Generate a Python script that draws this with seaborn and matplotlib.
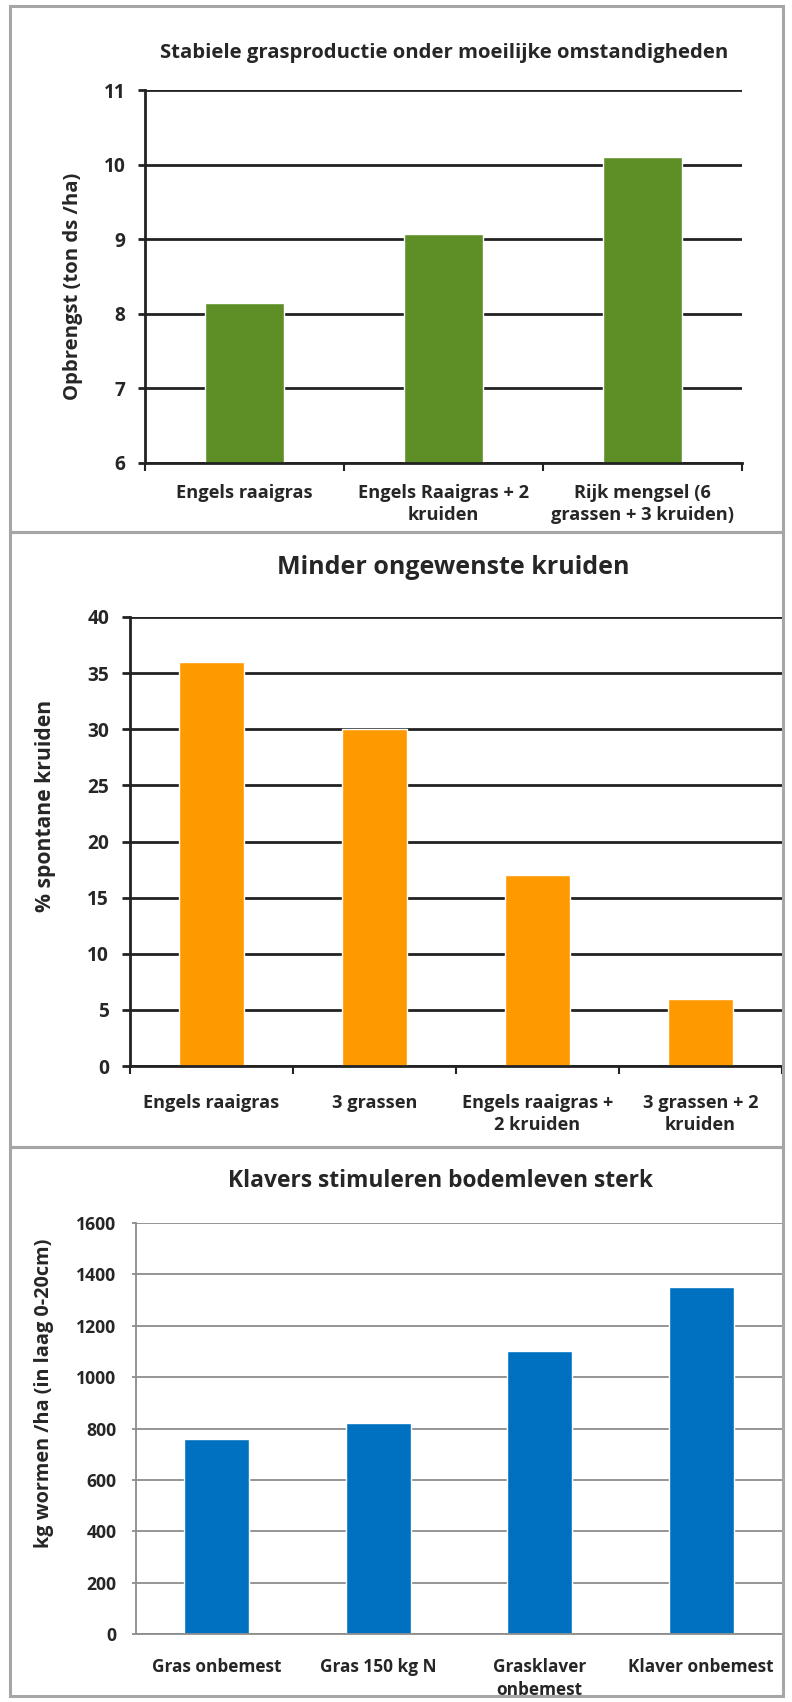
import matplotlib
matplotlib.use("Agg")
import matplotlib.pyplot as plt
import seaborn as sns
import pandas as pd
from matplotlib.patches import Rectangle

sns.set_theme(style="white")
plt.rcParams['font.family'] = ['Open Sans', 'DejaVu Sans']
plt.rcParams['font.weight'] = 'bold'

# ---- data ----
cats1 = ["Engels raaigras", "Engels Raaigras + 2\nkruiden", "Rijk mengsel (6\ngrassen + 3 kruiden)"]
vals1 = [8.15, 9.07, 10.1]
title1 = "Stabiele grasproductie onder moeilijke omstandigheden"
ylabel1 = "Opbrengst (ton ds /ha)"
yticks1 = [6, 7, 8, 9, 10, 11]

cats2 = ["Engels raaigras", "3 grassen", "Engels raaigras +\n2 kruiden", "3 grassen + 2\nkruiden"]
vals2 = [36, 30, 17, 6]
title2 = "Minder ongewenste kruiden"
ylabel2 = "% spontane kruiden"
yticks2 = [0, 5, 10, 15, 20, 25, 30, 35, 40]

cats3 = ["Gras onbemest", "Gras 150 kg N", "Grasklaver\nonbemest", "Klaver onbemest"]
vals3 = [760, 820, 1100, 1350]
title3 = "Klavers stimuleren bodemleven sterk"
ylabel3 = "kg wormen /ha (in laag 0-20cm)"
yticks3 = [0, 200, 400, 600, 800, 1000, 1200, 1400, 1600]

W, H = 792, 1702
fig = plt.figure(figsize=(W / 100, H / 100), dpi=100)
fig.patch.set_facecolor("white")
TXT = "#262626"


def ax_at(x0, y0, x1, y1):
    return fig.add_axes([x0 / W, 1 - y1 / H, (x1 - x0) / W, (y1 - y0) / H])


for (y0, y1) in [(6, 532), (532, 1147), (1147, 1696)]:
    fig.patches.append(Rectangle((10 / W, 1 - y1 / H), 773 / W, (y1 - y0) / H,
                                 transform=fig.transFigure, fill=False,
                                 edgecolor="#a6a6a6", linewidth=2.2, zorder=0))


def draw(ax, cats, vals, color, yticks, grid_color, grid_lw, spine_color,
         xticks_marks, tickfs, xfs, ytick_len, ypad, xpad, lsp):
    df = pd.DataFrame({"cat": cats, "val": vals})
    sns.barplot(data=df, x="cat", y="val", color=color, width=0.4,
                saturation=1, ax=ax, zorder=3)
    n = len(cats)
    ax.set_xlim(-0.5, n - 0.5)
    ax.set_ylim(yticks[0], yticks[-1])
    ax.set_yticks(yticks)
    ax.set_yticklabels([str(t) for t in yticks], fontsize=tickfs, fontweight="bold",
                       color=TXT)
    for t in yticks:
        ax.axhline(t, color=grid_color, lw=grid_lw, zorder=1)
    ax.set_xticks(range(n))
    ax.set_xticklabels(cats, fontsize=xfs, fontweight="bold", color=TXT,
                       linespacing=lsp, va="top")
    ax.tick_params(axis="x", which="major", length=0, pad=xpad)
    if xticks_marks:
        ax.set_xticks([i - 0.5 for i in range(n + 1)], minor=True)
        ax.tick_params(axis="x", which="minor", length=6, width=1.5,
                       color=spine_color, direction="out", bottom=True)
    ax.tick_params(axis="y", length=ytick_len, width=grid_lw, color=grid_color,
                   direction="out", left=True, pad=ypad)
    for s in ["top", "right"]:
        ax.spines[s].set_visible(False)
    for s in ["left", "bottom"]:
        ax.spines[s].set_color(spine_color)
        ax.spines[s].set_linewidth(grid_lw)
        ax.spines[s].set_zorder(4)
    ax.set_xlabel("")
    ax.set_ylabel("")
    ax.set_facecolor("none")
    return ax


# Panel 1
ax1 = ax_at(145, 90, 742, 463)
draw(ax1, cats1, vals1, "#5e8e26", yticks1, "#222222", 2.0, "#222222", True,
     14, 13.3, 5, 9, 15, 1.28)
t1 = fig.text(444 / W, 1 - 53 / H, title1, ha="center", va="center", fontsize=14.7,
              fontweight="bold", color=TXT)
l1 = fig.text(73 / W, 1 - 286 / H, ylabel1, ha="center", va="center",
              rotation=90, fontsize=14.5, fontweight="bold", color=TXT)

# Panel 2
ax2 = ax_at(130, 617, 782, 1066)
draw(ax2, cats2, vals2, "#ff9900", yticks2, "#222222", 2.0, "#222222", True,
     14, 13.3, 6, 9, 20, 1.32)
t2 = fig.text(453 / W, 1 - 568 / H, title2, ha="center", va="center", fontsize=18,
              fontweight="bold", color=TXT)
l2 = fig.text(46 / W, 1 - 806 / H, ylabel2, ha="center", va="center",
              rotation=90, fontsize=15.2, fontweight="bold", color=TXT)

# Panel 3
ax3 = ax_at(136, 1223, 782, 1634)
draw(ax3, cats3, vals3, "#0070c0", yticks3, "#8c8c8c", 1.3, "#8c8c8c", False,
     13, 12.5, 3, 11, 17, 1.35)
t3 = fig.text(441 / W, 1 - 1181 / H, title3, ha="center", va="center", fontsize=16.3,
              fontweight="bold", color=TXT)
l3 = fig.text(44 / W, 1 - 1393 / H, ylabel3, ha="center", va="center",
              rotation=90, fontsize=13.2, fontweight="bold", color=TXT)

# ---- fit text sizes to the reference's measured text extents (pixels) ----
fig.canvas.draw()
r = fig.canvas.get_renderer()


def fit_group(texts, probe, target, use_height=False):
    bb = probe.get_window_extent(r)
    cur = bb.height if use_height else bb.width
    k = target / cur
    for t in texts:
        t.set_fontsize(t.get_fontsize() * k)


for t, target in [(t1, 564), (t2, 353), (t3, 424)]:
    fit_group([t], t, target)
for t, target in [(l1, 228), (l2, 213), (l3, 310)]:
    fit_group([t], t, target, use_height=True)
for ax, target in [(ax1, 138), (ax2, 137), (ax3, 130)]:
    labs = ax.get_xticklabels()
    fit_group(labs, labs[0], target)
for ax, idx, target in [(ax1, 4, 22), (ax2, 8, 22), (ax3, 7, 40)]:
    labs = ax.get_yticklabels()
    fit_group(labs, labs[idx], target)

fig.savefig("out.png", dpi=100, facecolor="white")
